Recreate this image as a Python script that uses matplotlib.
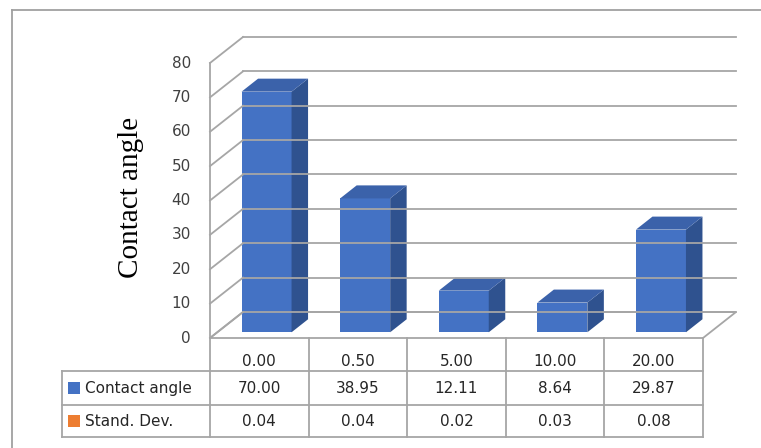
import matplotlib.pyplot as plt
from matplotlib.patches import Polygon, Rectangle

# data
categories = ['0.00', '0.50', '5.00', '10.00', '20.00']
contact_angle = [70.00, 38.95, 12.11, 8.64, 29.87]
stand_dev = [0.04, 0.04, 0.02, 0.03, 0.08]
y_ticks = [0, 10, 20, 30, 40, 50, 60, 70, 80]

# layout in pixels (figure is 761 x 448)
W, H = 761, 448
X_LEFT, X_RIGHT = 210, 703      # front wall left / right
Y_ZERO, Y_TOP = 338, 63         # front wall value 0 / value 80
CW = (X_RIGHT - X_LEFT) / len(categories)
VS = (Y_ZERO - Y_TOP) / 80.0


def px2x(px):
    return -0.5 + (px - X_LEFT) / CW


def py2y(py):
    return (Y_ZERO - py) / VS


# oblique depth vector of the plot box, in data units
DX = 33 / CW
DY = 26 / VS
F0, FD = 0.22, 0.5              # bar starts at 22% depth, 50% deep
BW = 0.507

grid_col = '#a6a6a6'
front_col = '#4472c4'
side_col = '#2f528f'
top_col = '#3b62aa'


def main():
    fig = plt.figure(figsize=(7.61, 4.48), dpi=100)
    ax = fig.add_axes([0, 0, 1, 1])
    ax.set_xlim(px2x(0), px2x(W))
    ax.set_ylim(py2y(H), py2y(0))
    ax.axis('off')

    n = len(categories)
    x_lo, x_hi = -0.5, n - 0.5

    # outer chart border
    ax.plot([px2x(12), px2x(W + 5)], [py2y(10), py2y(10)], color='#a0a0a0', lw=1.3)
    ax.plot([px2x(12), px2x(12)], [py2y(10), py2y(H + 5)], color='#a0a0a0', lw=1.3)

    # floor
    floor = Polygon([(x_lo, 0), (x_hi, 0), (x_hi + DX, DY), (x_lo + DX, DY)],
                    closed=True, facecolor='white', edgecolor=grid_col, lw=1.3)
    ax.add_patch(floor)

    # back wall gridlines and side wall diagonals
    for t in y_ticks:
        ax.plot([x_lo + DX, x_hi + DX], [t + DY, t + DY], color=grid_col, lw=1.3)
        ax.plot([x_lo, x_lo + DX], [t, t + DY], color=grid_col, lw=1.3)
        ax.text(px2x(191), t, str(t), ha='right', va='center', fontsize=11, color='#404040')
    ax.plot([x_lo, x_lo], [0, 80], color=grid_col, lw=1.3)

    # 3d columns
    base = F0 * DY
    for i, v in enumerate(contact_angle):
        left = i - BW / 2 + F0 * DX
        right = left + BW
        ax.add_patch(Rectangle((left, base), BW, v, facecolor=front_col, edgecolor='none'))
        ax.add_patch(Polygon([(right, base), (right + FD * DX, base + FD * DY),
                              (right + FD * DX, base + v + FD * DY), (right, base + v)],
                             closed=True, facecolor=side_col, edgecolor='none'))
        ax.add_patch(Polygon([(left, base + v), (right, base + v),
                              (right + FD * DX, base + v + FD * DY), (left + FD * DX, base + v + FD * DY)],
                             closed=True, facecolor=top_col, edgecolor='none'))

    # y axis title
    ax.text(px2x(131), py2y(197), 'Contact angle', rotation=90, ha='center', va='center',
            fontsize=21, family='Liberation Serif', color='black')

    # data table
    rows = [371, 405, 437]
    for r in rows:
        ax.plot([px2x(62), x_hi], [py2y(r), py2y(r)], color=grid_col, lw=1.3)
    ax.plot([px2x(62), px2x(62)], [py2y(371), py2y(437)], color=grid_col, lw=1.3)
    for k in range(n + 1):
        ax.plot([x_lo + k, x_lo + k], [0, py2y(437)], color=grid_col, lw=1.3)

    tc = '#262626'
    for i, c in enumerate(categories):
        ax.text(i, py2y(361), c, ha='center', va='center', fontsize=11, color=tc)
        ax.text(i, py2y(388), f'{contact_angle[i]:.2f}', ha='center', va='center', fontsize=11, color=tc)
        ax.text(i, py2y(421), f'{stand_dev[i]:.2f}', ha='center', va='center', fontsize=11, color=tc)

    for label, col, yc in [('Contact angle', front_col, 388), ('Stand. Dev.', '#ed7d31', 421)]:
        ax.add_patch(Rectangle((px2x(68), py2y(yc + 6)), px2x(80) - px2x(68), py2y(yc - 6) - py2y(yc + 6),
                               facecolor=col, edgecolor='none'))
        ax.text(px2x(85), py2y(yc), label, ha='left', va='center', fontsize=11, color=tc)

    fig.savefig('out.png', dpi=100)


if __name__ == "__main__":
    main()
